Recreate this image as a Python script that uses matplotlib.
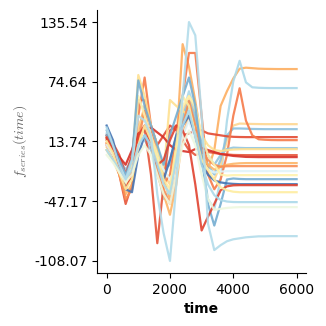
import numpy as np
import matplotlib
matplotlib.use('Agg')
import matplotlib.pyplot as plt

plt.rcParams['mathtext.fontset'] = 'cm'

# time axis (every 200)
time = np.arange(0, 6001, 200)

s01 = [12, 2, -15, -30, -18, 25, 50, 30, 5, -25, -45, 10, 113, 90, 55, 15, -15, 5, 50, 65, 78, 88, 89, 88.5, 88, 87.8, 87.7, 87.6, 87.6, 87.6, 87.6]
s02 = [22, 8, -8, -22, -2, 55, 45, 15, -15, -45, -35, 5, 40, 65, 45, -5, -45, -55, -25, 35, 75, 96, 74, 69, 68.5, 68.3, 68.2, 68.2, 68.2, 68.2, 68.2]
s03 = [8, 0, -12, -25, -10, 30, 40, 20, 0, -20, -30, 10, 45, 60, 40, 10, -20, -25, -10, 15, 30, 32, 31.8, 31.6, 31.5, 31.4, 31.4, 31.4, 31.4, 31.4, 31.4]
s04 = [15, 5, -5, -15, -5, 20, 25, 15, 0, -15, -10, 15, 35, 50, 35, 10, -10, -20, -5, 20, 27, 27, 26.8, 26.5, 26.4, 26.3, 26.3, 26.3, 26.3, 26.3, 26.3]
s05 = [20, 12, 0, -20, 0, 56, 56, 30, 10, 20, 30, 25, 20, 22, 25, 25, 22, 21, 20, 19, 18.5, 18.3, 18.2, 18.2, 18.2, 18.2, 18.2, 18.2, 18.2, 18.2, 18.2]
s06 = [15, 5, -15, -30, -10, 40, 79, 30, -10, -30, -20, 20, 60, 104, 104, 40, -20, -35, -25, 0, 40, 68, 35, 20, 16, 15.5, 15.2, 15.1, 15.1, 15.1, 15.1]
s07 = [25, 10, -10, -25, -10, 20, 15, 5, -10, -20, -5, 20, 40, 55, 40, 15, 0, -10, 0, 6, 7.5, 7.2, 7, 7, 7, 7, 7, 7, 7, 7, 7]
s08 = [18, 5, -12, -28, -10, 81.5, 60, 30, 10, -20, 56, 50, 45, 40, 30, 20, 10, 5, 4, 5, 5.5, 5.8, 5.9, 5.9, 5.9, 5.9, 5.9, 5.9, 5.9, 5.9, 5.9]
s09 = [10, 0, -20, -50, -30, 20, 27, -20, -90, -30, 25, 30, 15, 5, 0, 2, 3, 2, 1, 0.5, 0, -0.1, -0.2, -0.2, -0.2, -0.2, -0.2, -0.2, -0.2, -0.2, -0.2]
s10 = [17, 5, -2, -10, 5, 22, 26, 28, 23, 18, 10, 5, 4, 3, 6, 7, 5, 3, 1, 0, -1, -1.5, -2, -2.1, -2.2, -2.2, -2.2, -2.2, -2.2, -2.2, -2.2]
s11 = [5, -5, -20, -40, -30, 10, 30, 10, -20, -40, -61, -30, 20, 40, 20, 0, -10, -15, -12, -10, -9, -8.5, -8.3, -8.3, -8.3, -8.3, -8.3, -8.3, -8.3, -8.3, -8.3]
s12 = [12, 0, -20, -45, -35, 15, 45, 15, -15, -35, -50, -20, 30, 55, 30, 5, -5, -10, -12, -11.5, -11.4, -11.4, -11.4, -11.4, -11.4, -11.4, -11.4, -11.4, -11.4, -11.4, -11.4]
s13 = [10, 0, -10, -20, -15, 10, 20, 10, -5, -15, -25, -10, 20, 35, 15, -5, -15, -18, -17, -16.5, -16.5, -16.5, -16.5, -16.5, -16.5, -16.5, -16.5, -16.5, -16.5, -16.5, -16.5]
s14 = [5, -5, -15, -30, -20, 60, 40, 20, 0, -30, -40, 0, 50, 60, 50, 20, 0, -10, -20, -21, -20.6, -20.6, -20.6, -20.6, -20.6, -20.6, -20.6, -20.6, -20.6, -20.6, -20.6]
s15 = [20, 8, -5, -20, -5, 76, 50, 30, 10, -10, 20, 40, 60, 79, 50, 0, -50, -72, -50, -25, -24, -24.5, -24.7, -24.7, -24.7, -24.7, -24.7, -24.7, -24.7, -24.7, -24.7]
s16 = [30, 15, -10, -35, -38, 0, 20, 10, -10, -25, -5, 20, 30, 40, 20, -10, -20, -26, -28, -29, -29.5, -29.8, -29.8, -29.8, -29.8, -29.8, -29.8, -29.8, -29.8, -29.8, -29.8]
s17 = [18, 5, -15, -35, -20, 20, 30, 10, -10, -5, 15, 30, 25, 10, -30, -77, -63, -50, -36, -32, -31, -30.8, -30.8, -30.8, -30.8, -30.8, -30.8, -30.8, -30.8, -30.8, -30.8]
s18 = [14, 2, -18, -35, -25, 10, 30, 15, -5, -25, -35, 10, 60, 50, 20, -5, -15, -25, -33, -36, -37.5, -38, -38, -38, -38, -38, -38, -38, -38, -38, -38]
s19 = [5, -5, -15, -25, -15, 10, 20, 10, -10, -30, -40, -5, 30, 45, 20, -10, -30, -41, -46, -47.5, -48, -48.1, -48.1, -48.1, -48.1, -48.1, -48.1, -48.1, -48.1, -48.1, -48.1]
s20 = [0, -8, -18, -28, -20, 0, 10, 0, -20, -40, -50, -20, 10, 25, 10, -20, -45, -56, -55, -54, -53.5, -53.2, -53.2, -53.2, -53.2, -53.2, -53.2, -53.2, -53.2, -53.2, -53.2]
s21 = [28, 10, -10, -25, -5, 40, 35, 20, -40, -80, -108.068, -30, 60, 135.542, 122, 40, -70, -97, -92, -88, -86, -85, -84, -83.5, -83, -83, -82.8, -82.8, -82.8, -82.8, -82.8]

series = [s01, s02, s03, s04, s05, s06, s07, s08, s09, s10, s11,
          s12, s13, s14, s15, s16, s17, s18, s19, s20, s21]
colors = ['#fdae61', '#abd9e9', '#fed690', '#8cc0dd', '#e34a33', '#f67a49',
          '#92c5de', '#fee090', '#e6553a', '#d73027', '#fdb567', '#f88d52',
          '#e0f3f8', '#fff2ac', '#74add1', '#4575b4', '#e0422f', '#feeda0',
          '#abd9e9', '#eef8df', '#b3dcea']

fig, ax = plt.subplots(figsize=(3.26, 3.26), dpi=100)
fig.subplots_adjust(left=0.298, right=0.939, bottom=0.163, top=0.969)

for s, c in zip(series, colors):
    ax.plot(time, s, color=c, lw=1.6, alpha=0.9)

allv = np.concatenate([np.asarray(s, dtype=float) for s in series])
yt = np.linspace(allv.min(), allv.max(), 5)
ax.set_yticks(yt)
ax.set_yticklabels(['%.2f' % v for v in yt])
ax.set_xticks([0, 2000, 4000, 6000])

ax.set_xlabel('time', fontweight='bold', fontsize=10)
ax.set_ylabel('$f_{series}(time)$', fontsize=10, color='#666666')
ax.spines['top'].set_visible(False)
ax.spines['right'].set_visible(False)

fig.savefig('out.png', dpi=100)
